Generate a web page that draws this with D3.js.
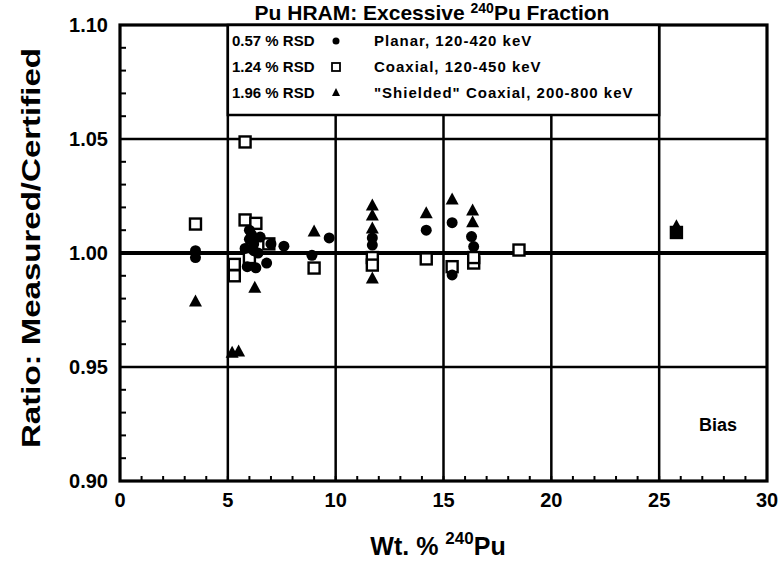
<!DOCTYPE html>
<html>
<head>
<script src="https://d3js.org/d3.v7.min.js"></script>
<style>
  body, html { margin: 0; background: #fff; }
  text { font-family: "Liberation Sans", Arial, sans-serif; font-weight: bold; fill: #000; }
</style>
</head>
<body>
<div id="chart"></div>
<script>
// data
var planar = [
  [3.5, 1.001], [3.5, 0.998], [5.8, 1.002], [5.9, 0.994], [6.0, 1.006], [6.0, 1.010],
  [6.1, 1.008], [6.2, 1.004], [6.2, 1.001], [6.3, 0.9935], [6.4, 1.000], [6.5, 1.007],
  [6.8, 0.9956], [7.0, 1.004], [7.6, 1.003], [8.9, 0.999], [9.7, 1.0066],
  [11.7, 1.0066], [11.7, 1.0035], [14.2, 1.010], [15.4, 1.0133], [15.4, 0.9904],
  [16.3, 1.0072], [16.4, 1.0028], [25.8, 1.0085]
];
var coaxial = [
  [3.5, 1.0127], [5.8, 1.0487], [5.8, 1.0145], [6.3, 1.013], [6.9, 1.004],
  [5.3, 0.995], [5.3, 0.990], [6.0, 0.998], [9.0, 0.9934], [11.7, 0.998],
  [11.7, 0.9947], [14.2, 0.9974], [15.4, 0.994], [16.4, 0.9956], [16.4, 0.998],
  [18.5, 1.0013], [25.8, 1.009]
];
var shielded = [
  [3.5, 0.979], [5.2, 0.9565], [5.5, 0.957], [6.25, 0.985], [9.0, 1.0096],
  [11.7, 1.021], [11.7, 1.0167], [11.7, 1.011], [11.7, 0.989], [14.2, 1.0177],
  [15.4, 1.0237], [16.35, 1.0189], [16.35, 1.0137], [25.8, 1.012]
];
var xTicks = [0, 5, 10, 15, 20, 25, 30];
var yTicks = [0.90, 0.95, 1.00, 1.05, 1.10];
var legendRows = [
  ["0.57 % RSD", "circle", "Planar, 120-420 keV"],
  ["1.24 % RSD", "square", "Coaxial, 120-450 keV"],
  ["1.96 % RSD", "triangle", "\"Shielded\" Coaxial, 200-800 keV"]
];

var W = 781, H = 567;
var svg = d3.select("#chart").append("svg").attr("width", W).attr("height", H);

var x = d3.scaleLinear().domain([0, 30]).range([120, 767]);
var y = d3.scaleLinear().domain([0.90, 1.10]).range([481, 25]);
var legendBottom = 115;

// title (cut off at the top in the scan)
var tt = svg.append("text").attr("x", 432).attr("y", 20).attr("text-anchor", "middle")
  .style("font-size", "21px");
tt.append("tspan").text("Pu HRAM: Excessive ");
tt.append("tspan").attr("dy", -7).style("font-size", "14px").text("240");
tt.append("tspan").attr("dy", 7).text("Pu Fraction");

// minor ticks
svg.append("g").selectAll("line").data(d3.range(0.90, 1.1001, 0.01))
  .enter().append("line")
  .attr("x1", x(0)).attr("x2", x(0) + 6)
  .attr("y1", d => y(d)).attr("y2", d => y(d))
  .attr("stroke", "#000").attr("stroke-width", 2);
svg.append("g").selectAll("line").data(d3.range(0, 31, 1))
  .enter().append("line")
  .attr("x1", d => x(d)).attr("x2", d => x(d))
  .attr("y1", y(0.90)).attr("y2", y(0.90) - 5)
  .attr("stroke", "#000").attr("stroke-width", 2);

// horizontal grid
svg.append("g").selectAll("line").data([0.95, 1.00, 1.05])
  .enter().append("line")
  .attr("x1", x(0)).attr("x2", x(30))
  .attr("y1", d => y(d)).attr("y2", d => y(d))
  .attr("stroke", "#000").attr("stroke-width", d => d === 1.00 ? 4 : 2.5);

// vertical grid
svg.append("g").selectAll("line").data([5, 10, 15, 20, 25])
  .enter().append("line")
  .attr("x1", d => x(d)).attr("x2", d => x(d))
  .attr("y1", d => (d === 5 || d === 25) ? y(1.10) : legendBottom).attr("y2", y(0.90))
  .attr("stroke", "#000").attr("stroke-width", 2.5);

// frame
svg.append("rect").attr("x", x(0)).attr("y", y(1.10))
  .attr("width", x(30) - x(0)).attr("height", y(0.90) - y(1.10))
  .attr("fill", "none").attr("stroke", "#000").attr("stroke-width", 3.2);

// legend box
svg.append("rect").attr("x", x(5)).attr("y", y(1.10))
  .attr("width", x(25) - x(5)).attr("height", legendBottom - y(1.10))
  .attr("fill", "#fff").attr("stroke", "#000").attr("stroke-width", 2.5);

// tick labels
svg.append("g").selectAll("text").data(yTicks).enter().append("text")
  .attr("x", 108).attr("y", d => y(d) + 7).attr("text-anchor", "end")
  .style("font-size", "20px").text(d => d.toFixed(2));
svg.append("g").selectAll("text").data(xTicks).enter().append("text")
  .attr("x", d => x(d)).attr("y", 507).attr("text-anchor", "middle")
  .style("font-size", "20px").text(d => d);

// axis titles
svg.append("text").attr("transform", "translate(40,248) rotate(-90)")
  .attr("text-anchor", "middle").style("font-size", "25px")
  .attr("textLength", 400).attr("lengthAdjust", "spacingAndGlyphs")
  .text("Ratio:  Measured/Certified");
var xt = svg.append("text").attr("x", 438).attr("y", 555).attr("text-anchor", "middle")
  .style("font-size", "25px");
xt.append("tspan").text("Wt. % ");
xt.append("tspan").attr("dy", -11).style("font-size", "17px").text("240");
xt.append("tspan").attr("dy", 11).text("Pu");

svg.append("text").attr("x", 718).attr("y", 431).attr("text-anchor", "middle")
  .style("font-size", "18px").text("Bias");

// markers
function drawMarker(g, type, cx, cy) {
  if (type === "circle") {
    g.append("circle").attr("cx", cx).attr("cy", cy).attr("r", 5.5).attr("fill", "#000");
  } else if (type === "square") {
    g.append("rect").attr("x", cx - 5.5).attr("y", cy - 5.5).attr("width", 11).attr("height", 11)
      .attr("fill", "#fff").attr("stroke", "#000").attr("stroke-width", 2.4);
  } else {
    g.append("path").attr("transform", "translate(" + cx + "," + cy + ")")
      .attr("d", "M0,-6.5L6.5,5.5L-6.5,5.5Z").attr("fill", "#000");
  }
}
var pts = svg.append("g");
coaxial.forEach(d => drawMarker(pts, "square", x(d[0]), y(d[1])));
planar.forEach(d => drawMarker(pts, "circle", x(d[0]), y(d[1])));
shielded.forEach(d => drawMarker(pts, "triangle", x(d[0]), y(d[1])));

// legend rows
var lg = svg.append("g");
legendRows.forEach(function(r, i) {
  var yy = 41 + i * 26;
  lg.append("text").attr("x", 232).attr("y", yy + 5).style("font-size", "15px").text(r[0]);
  var mk = lg.append("g");
  if (r[1] === "circle") mk.append("circle").attr("cx", 336).attr("cy", yy).attr("r", 3.5).attr("fill", "#000");
  else if (r[1] === "square") mk.append("rect").attr("x", 332).attr("y", yy - 4).attr("width", 8).attr("height", 8)
    .attr("fill", "#fff").attr("stroke", "#000").attr("stroke-width", 1.8);
  else mk.append("path").attr("d", "M336," + (yy - 5) + "L340," + (yy + 3) + "L332," + (yy + 3) + "Z").attr("fill", "#000");
  lg.append("text").attr("x", 374).attr("y", yy + 5).style("font-size", "15px")
    .style("letter-spacing", "1px").text(r[2]);
});
</script>
</body>
</html>
